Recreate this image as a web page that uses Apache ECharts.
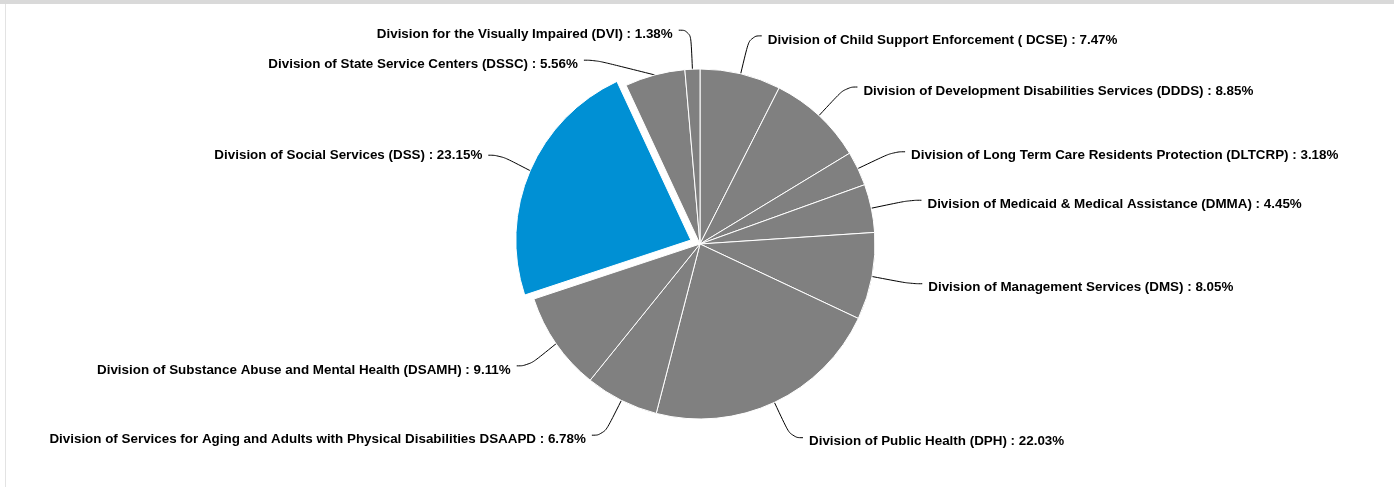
<!DOCTYPE html>
<html>
<head>
<meta charset="utf-8">
<script src="https://cdn.jsdelivr.net/npm/echarts@6/dist/echarts.min.js"></script>
<style>
  html, body { margin: 0; padding: 0; background: #fff; }
  #frame { position: absolute; left: 0; top: 0; width: 1394px; height: 487px; border-top: 4px solid #d9d9d9; box-sizing: border-box; }
  #chart { position: absolute; left: 5px; top: 4px; width: 1389px; height: 483px; border-left: 1px solid #e3e3e3; box-sizing: border-box; }
</style>
</head>
<body>
<div id="frame"></div>
<div id="chart"></div>
<script>
// Budget share by division, clockwise from 12 o'clock
const divisions = [
  'Division of Child Support Enforcement ( DCSE)',
  'Division of Development Disabilities Services (DDDS)',
  'Division of Long Term Care Residents Protection (DLTCRP)',
  'Division of Medicaid & Medical Assistance (DMMA)',
  'Division of Management Services (DMS)',
  'Division of Public Health (DPH)',
  'Division of Services for Aging and Adults with Physical Disabilities DSAAPD',
  'Division of Substance Abuse and Mental Health (DSAMH)',
  'Division of Social Services (DSS)',
  'Division of State Service Centers (DSSC)',
  'Division for the Visually Impaired (DVI)'
];
const shares = [7.47, 8.85, 3.18, 4.45, 8.05, 22.03, 6.78, 9.11, 23.15, 5.56, 1.38];
const highlighted = ['Division of Social Services (DSS)'];

const chart = echarts.init(document.getElementById('chart'), null, { renderer: 'canvas' });

const data = divisions.map((name, i) => {
  const hot = highlighted.includes(name);
  return {
    name: name,
    value: shares[i],
    selected: hot,
    itemStyle: { color: hot ? '#0090d4' : '#808080' }
  };
});

chart.setOption({
  animation: false,
  series: [{
    type: 'pie',
    center: [694, 240],
    radius: 175,
    startAngle: 90,
    clockwise: true,
    selectedMode: 'single',
    selectedOffset: 10,
    avoidLabelOverlap: true,
    data: data,
    itemStyle: { borderColor: '#ffffff', borderWidth: 1 },
    label: {
      show: true,
      formatter: '{b} : {c}%',
      color: '#000000',
      fontFamily: 'Liberation Sans, Arial, sans-serif',
      fontWeight: 'bold',
      fontSize: 13.4,
      lineHeight: 28,
      offset: [0, 4],
      distanceToLabelLine: 6
    },
    labelLine: {
      show: true,
      length: 39,
      length2: 12,
      smooth: 0.5,
      lineStyle: { color: '#000000', width: 1 }
    },
    emphasis: { disabled: true }
  }]
});
</script>
</body>
</html>
